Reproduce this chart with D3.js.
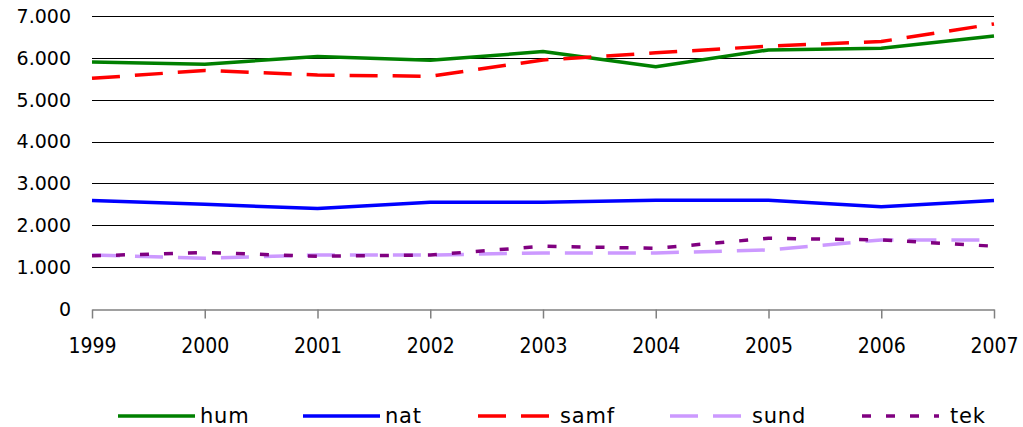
<!DOCTYPE html>
<html>
<head>
<meta charset="utf-8">
<script src="https://cdn.jsdelivr.net/npm/d3@7"></script>
<style>
  body { margin: 0; background: #fff; }
  text { font-family: "DejaVu Sans", sans-serif; }
</style>
</head>
<body>
<div id="chart"></div>
<script>
const years = [1999, 2000, 2001, 2002, 2003, 2004, 2005, 2006, 2007];
const hum  = [5900, 5850, 6030, 5940, 6150, 5790, 6190, 6230, 6520];
const nat  = [2590, 2500, 2400, 2550, 2550, 2600, 2600, 2440, 2590];
const samf = [5510, 5700, 5590, 5560, 5950, 6120, 6280, 6390, 6810];
const sund = [1290, 1210, 1290, 1290, 1340, 1340, 1410, 1650, 1650];
const tek  = [1270, 1350, 1260, 1290, 1500, 1450, 1690, 1650, 1500];
const yTicks = [0, 1000, 2000, 3000, 4000, 5000, 6000, 7000];

const series = [
  { name: "hum",  values: hum,  color: "#008000", dash: null },
  { name: "nat",  values: nat,  color: "#0000ff", dash: null },
  { name: "samf", values: samf, color: "#ff0000", dash: "28,15" },
  { name: "sund", values: sund, color: "#cc99ff", dash: "28,15" },
  { name: "tek",  values: tek,  color: "#800080", dash: "9,15" }
];

const width = 1023, height = 427;
const margin = { left: 92, right: 29, top: 16, bottom: 118 };

const svg = d3.select("#chart").append("svg")
  .attr("width", width)
  .attr("height", height);

const x = d3.scalePoint()
  .domain(years)
  .range([margin.left, width - margin.right]);

const y = d3.scaleLinear()
  .domain([0, 7000])
  .range([height - margin.bottom, margin.top]);

// gridlines
svg.append("g")
  .selectAll("line")
  .data(yTicks.slice(1))
  .join("line")
  .attr("x1", margin.left)
  .attr("x2", width - margin.right)
  .attr("y1", d => Math.round(y(d)) + 0.5)
  .attr("y2", d => Math.round(y(d)) + 0.5)
  .attr("stroke", "#000")
  .attr("stroke-width", 1);

// y labels
svg.append("g")
  .selectAll("text")
  .data(yTicks)
  .join("text")
  .attr("x", 71)
  .attr("y", d => y(d))
  .attr("dy", "0.36em")
  .attr("text-anchor", "end")
  .style("font-size", "19px")
  .text(d => d3.format(",")(d).replace(/,/g, "."));

// x axis
const xAxis = svg.append("g")
  .attr("transform", `translate(0,${Math.round(y(0)) + 0.5})`)
  .call(d3.axisBottom(x).tickSize(9).tickSizeOuter(0).tickPadding(20));
xAxis.select(".domain").attr("stroke", "#808080").attr("stroke-width", 1.5);
xAxis.selectAll(".tick line").attr("stroke", "#808080").attr("stroke-width", 1.5);
xAxis.selectAll(".tick text")
  .attr("fill", "#000")
  .style("font-size", "21px")
  .style("font-family", "'DejaVu Sans Condensed', 'DejaVu Sans', sans-serif");

// lines
const line = d3.line()
  .x((d, i) => x(years[i]))
  .y(d => y(d));

svg.append("g")
  .selectAll("path")
  .data(series)
  .join("path")
  .attr("d", d => line(d.values))
  .attr("fill", "none")
  .attr("stroke", d => d.color)
  .attr("stroke-width", 3.5)
  .attr("stroke-dasharray", d => d.dash)
  .attr("stroke-linejoin", "round");

// legend
const legendX = [118, 303, 478, 670, 862];
const legend = svg.append("g")
  .selectAll("g")
  .data(series)
  .join("g")
  .attr("transform", (d, i) => `translate(${legendX[i]},416)`);

legend.append("line")
  .attr("x1", 0)
  .attr("x2", 77)
  .attr("stroke", d => d.color)
  .attr("stroke-width", 3.5)
  .attr("stroke-dasharray", d => d.dash);

legend.append("text")
  .attr("x", d => d.name === "tek" ? 88 : 82)
  .attr("dy", "0.35em")
  .style("font-size", "21px")
  .style("letter-spacing", "0.8px")
  .text(d => d.name);
</script>
</body>
</html>
